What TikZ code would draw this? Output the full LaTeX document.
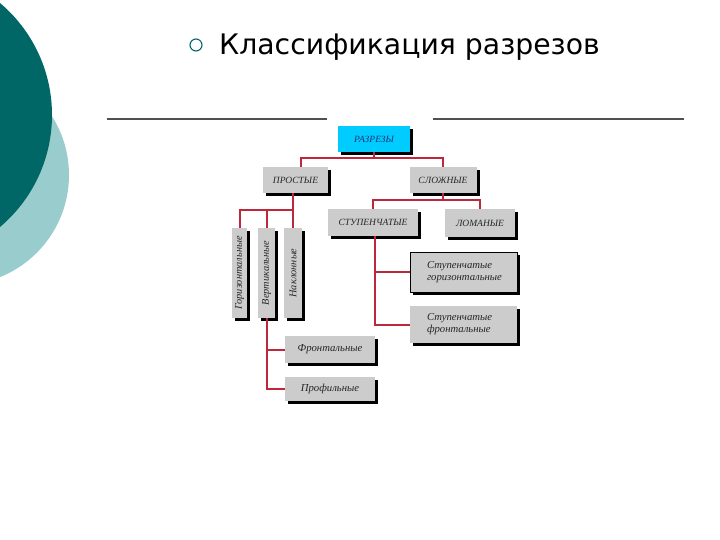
\documentclass[tikz,border=0pt]{standalone}
\usepackage{fontspec}
\setmainfont{Liberation Serif}
\newfontfamily\titlefont{DejaVu Sans}
\usetikzlibrary{shadows}
\definecolor{darkteal}{RGB}{0,102,102}
\definecolor{lightteal}{RGB}{153,204,204}
\definecolor{boxgray}{RGB}{204,204,204}
\definecolor{boxcyan}{RGB}{0,204,255}
\definecolor{connred}{RGB}{190,40,60}
\definecolor{rulegray}{RGB}{80,80,80}
\definecolor{labelblue}{RGB}{30,50,120}
\begin{document}
\begin{tikzpicture}[x=1pt,y=-1pt,
  boxbase/.style={rectangle, inner sep=0pt, font=\fontsize{9.5}{11}\selectfont\itshape,
     text=black!85, drop shadow={shadow xshift=3pt, shadow yshift=-3pt, fill=black, opacity=1}},
  gbox/.style={boxbase, fill=boxgray},
  cbox/.style={boxbase, fill=boxcyan, text=labelblue},
  obox/.style={gbox, draw=black, line width=0.8pt},
  lbl/.style={font=\fontsize{10.7}{12}\selectfont\itshape, text=black!85},
  wide/.style={inner xsep=17pt, text width=73pt, align=left},
  vlbl/.style={rotate=90, font=\fontsize{10.3}{11}\selectfont\itshape, text=black!85, inner sep=0pt},
  conn/.style={draw=connred, line width=2pt},
  rulerline/.style={draw=rulegray, line width=1.8pt}]
\useasboundingbox (0,0) rectangle (720,540);
\begin{scope}
\clip (0,0) rectangle (720,540);
\fill[lightteal] (-41,175) circle (110);
\fill[darkteal] (-94.6,115) circle (146.6);
\end{scope}
% title
\draw[darkteal, line width=1.1pt] (196,45) circle (6);
\node[anchor=base west, inner sep=0pt, font=\titlefont\fontsize{28.3}{33}\selectfont] (title) at (219,55) {Классификация разрезов};
% rules
\draw[rulerline] (107,119) coordinate (l1) -- (327,119) coordinate (l2);
\draw[rulerline] (433,119) coordinate (r1) -- (684,119) coordinate (r2);
% junctions
\coordinate (rj) at (374,158);
\coordinate (pj) at (293,210);
\coordinate (sj) at (443,200);
% boxes
\node[cbox, minimum width=72pt, minimum height=26pt] (razr) at (374,139) {РАЗРЕЗЫ};
\node[gbox, minimum width=65pt, minimum height=26pt] (prost) at (295.5,180) {ПРОСТЫЕ};
\node[gbox, minimum width=67pt, minimum height=26pt] (slozh) at (443,180) {СЛОЖНЫЕ};
\node[gbox, minimum width=90pt, minimum height=27pt] (stup) at (373,222.5) {СТУПЕНЧАТЫЕ};
\node[gbox, minimum width=70pt, minimum height=27pt] (loman) at (480,223) {ЛОМАНЫЕ};
\node[obox, lbl, wide, minimum height=40pt] (sg) at (463.5,272) {Ступенчатые\\горизонтальные};
\node[gbox, lbl, wide, minimum height=37pt] (sf) at (463.5,324.5) {Ступенчатые\\фронтальные};
\node[gbox, minimum width=15pt, minimum height=90pt] (gor) at (239.5,273) {};
\node[vlbl] (gort) at (gor) {Горизонтальные};
\node[gbox, minimum width=17pt, minimum height=90pt] (vert) at (266.5,273) {};
\node[vlbl] (vertt) at (vert) {Вертикальные};
\node[gbox, minimum width=18pt, minimum height=90pt] (nakl) at (293,273) {};
\node[vlbl] (naklt) at (nakl) {Наклонные};
\node[gbox, lbl, minimum width=90pt, minimum height=27pt] (front) at (330,349.5) {Фронтальные};
\node[gbox, lbl, minimum width=90pt, minimum height=24pt] (prof) at (330,389) {Профильные};
% connectors
\draw[conn] (razr.south) -- (rj) -| ([xshift=5.5pt]prost.north);
\draw[conn] (rj) -| (slozh.north);
\draw[conn] ([xshift=-2.5pt]prost.south) -- (pj) -| (gor.north);
\draw[conn] (pj) -| (vert.north);
\draw[conn] (pj) -- (nakl.north);
\draw[conn] (slozh.south) -- (sj) -| (stup.north);
\draw[conn] (sj) -| (loman.north);
\draw[conn] ([xshift=2pt]stup.south) |- (sg.west);
\draw[conn] ([xshift=2pt]stup.south) |- (sf.west);
\draw[conn] (vert.south) |- (front.west);
\draw[conn] (vert.south) |- (prof.west);
\end{tikzpicture}
\end{document}
